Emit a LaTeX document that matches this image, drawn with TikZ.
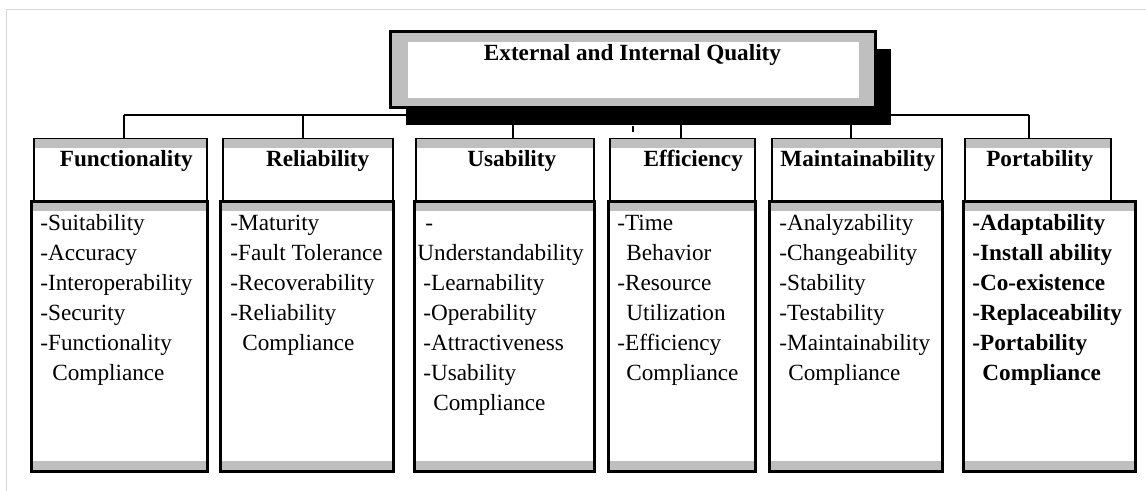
\documentclass[tikz,border=0pt]{standalone}
\usepackage{fontspec}
\setmainfont{Liberation Serif}
\usetikzlibrary{shadows}
\newcommand{\txt}{\fontsize{11.6}{15}\selectfont}
\begin{document}
\begin{tikzpicture}[x=0.5pt,y=-0.5pt,
  link/.style={line width=1pt},
  hdr/.style={draw,line width=0.75pt,anchor=north west,minimum height=31pt,
    path picture={\fill[black!25] (path picture bounding box.north west) rectangle ([yshift=-4.5pt]path picture bounding box.north east);}},
  body/.style={draw,line width=1.5pt,anchor=north west,minimum height=135pt,
    path picture={\fill[black!25] (path picture bounding box.north west) rectangle ([yshift=-5pt]path picture bounding box.north east);
      \fill[black!25] (path picture bounding box.south west) rectangle ([yshift=5pt]path picture bounding box.south east);}},
  title/.style={font=\bfseries\txt,anchor=base,inner sep=0},
  items/.style={font=\txt,align=left,anchor=north west,inner sep=0}]
\useasboundingbox (0,0) rectangle (1146,491);
\draw[black!15] (6,491) -- (6,9.5) -- (1146,9.5);
% the six characteristics
\node[hdr,minimum width=86.5pt] (fun) at (33,138) {};
\node[body,minimum width=88pt] (fun-b) at (30,200) {};
\node[title] (fun-t) at ([xshift=3pt,yshift=-14.5pt]fun.north) {Functionality};
\node[items] (fun-l) at (40,209) {\strut-Suitability\\-Accuracy\\-Interoperability\\-Security\\-Functionality\\\hspace*{6pt}Compliance};
\node[hdr,minimum width=85pt] (rel) at (222,138) {};
\node[body,minimum width=86.5pt] (rel-b) at (219,200) {};
\node[title] (rel-t) at ([xshift=5pt,yshift=-14.5pt]rel.north) {Reliability};
\node[items] (rel-l) at (230,209) {\strut-Maturity\\-Fault Tolerance\\-Recoverability\\-Reliability\\\hspace*{6pt}Compliance};
\node[hdr,minimum width=89pt] (usa) at (415,138) {};
\node[body,minimum width=90pt] (usa-b) at (413,200) {};
\node[title] (usa-t) at ([xshift=3.5pt,yshift=-14.5pt]usa.north) {Usability};
\node[items] (usa-l) at (417,209) {\strut\hspace*{4pt}-\\Understandability\\\hspace*{3pt}-Learnability\\\hspace*{3pt}-Operability\\\hspace*{3pt}-Attractiveness\\\hspace*{3pt}-Usability\\\hspace*{8pt}Compliance};
\node[hdr,minimum width=72.5pt] (eff) at (609,138) {};
\node[body,minimum width=73.5pt] (eff-b) at (607,200) {};
\node[title] (eff-t) at ([xshift=5.5pt,yshift=-14.5pt]eff.north) {Efficiency};
\node[items] (eff-l) at (617,209) {\strut-Time\\\hspace*{4.5pt}Behavior\\-Resource\\\hspace*{4.5pt}Utilization\\-Efficiency\\\hspace*{4.5pt}Compliance};
\node[hdr,minimum width=85pt] (mai) at (771,138) {};
\node[body,minimum width=86.5pt] (mai-b) at (768,200) {};
\node[title] (mai-t) at ([xshift=0.5pt,yshift=-14.5pt]mai.north) {Maintainability};
\node[items] (mai-l) at (779,209) {\strut-Analyzability\\-Changeability\\-Stability\\-Testability\\-Maintainability\\\hspace*{4.5pt}Compliance};
\node[hdr,minimum width=73pt] (por) at (964,138) {};
\node[body,minimum width=86pt] (por-b) at (962,200) {};
\node[title] (por-t) at ([xshift=1pt,yshift=-14.5pt]por.north) {Portability};
\node[items,font=\bfseries\txt] (por-l) at (972,209) {\strut-Adaptability\\-Install ability\\-Co-existence\\-Replaceability\\-Portability\\\hspace*{5pt}Compliance};
% tree lines
\foreach \n/\dx in {fun/3.5,rel/-5,usa/8,eff/-1.25,mai/-6,por/-9}
  \draw[link] ([xshift=\dx*0.5pt]\n.north) -- ++(0,-23) coordinate (\n-up);
\draw[link] (fun-up) -- (por-up);
% top box
\node[draw,line width=1.5pt,fill=black!25,minimum width=242.5pt,minimum height=38pt,
  drop shadow={fill=black,opacity=1,shadow xshift=8pt,shadow yshift=-8.5pt},
  path picture={\fill[white] ([xshift=9pt,yshift=-5pt]path picture bounding box.north west) rectangle ([xshift=-8pt,yshift=5pt]path picture bounding box.south east);}] (qual) at (632.5,70) {};
\node[title] (qual-t) at ([yshift=-15pt]qual.north) {External and Internal Quality};
\draw[link] ([yshift=-8.5pt]qual.south) -- ++(0,6) coordinate (qual-stub);
\end{tikzpicture}
\end{document}
